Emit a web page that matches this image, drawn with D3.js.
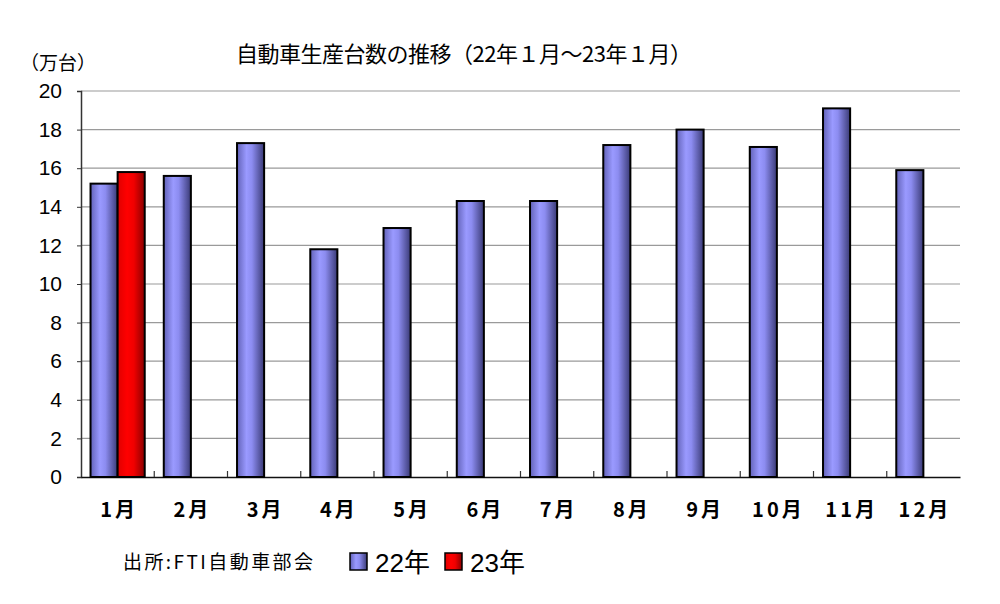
<!DOCTYPE html>
<html>
<head>
<meta charset="utf-8">
<script src="https://cdn.jsdelivr.net/npm/d3@7"></script>
<style>
  body { margin: 0; background: #fff; }
  svg { display: block; }
</style>
</head>
<body>
<svg id="chart" width="1000" height="604"></svg>
<script>
// データ
const months = ['1月', '2月', '3月', '4月', '5月', '6月', '7月', '8月', '9月', '10月', '11月', '12月'];
const values22 = [15.2, 15.6, 17.3, 11.8, 12.9, 14.3, 14.3, 17.2, 18.0, 17.1, 19.1, 15.9];
const values23 = [15.8, null, null, null, null, null, null, null, null, null, null, null];
const yTicks = [0, 2, 4, 6, 8, 10, 12, 14, 16, 18, 20];
const seriesNames = ['22年', '23年'];

const margin = { left: 81, right: 40, top: 91, bottom: 127 };
const width = 1000, height = 604;

const svg = d3.select('#chart');
const font = "'Liberation Sans', Arial, 'Noto Sans CJK JP', sans-serif";
const jpFont = "'Noto Sans CJK JP', sans-serif";

// グラデーション
const defs = svg.append('defs');
function addGradient(id, stops) {
    const gr = defs.append('linearGradient')
        .attr('id', id)
        .attr('x1', '0%').attr('x2', '100%')
        .attr('y1', '0%').attr('y2', '0%');
    stops.forEach(s => gr.append('stop').attr('offset', s[0]).attr('stop-color', s[1]));
}
addGradient('grad-blue', [['0%', '#6262b8'], ['35%', '#9a9aff'], ['55%', '#8c8cf0'], ['100%', '#3a3a76']]);
addGradient('grad-red', [['0%', '#e00000'], ['35%', '#ff0000'], ['60%', '#f00000'], ['100%', '#8a0000']]);

const x = d3.scaleBand()
    .domain(months)
    .range([margin.left, width - margin.right])
    .paddingInner(0.26)
    .paddingOuter(0.13);

const xSub = d3.scaleBand()
    .domain(seriesNames)
    .range([0, x.bandwidth()]);

const y = d3.scaleLinear()
    .domain([0, 20])
    .range([height - margin.bottom, margin.top]);

// グリッド線
svg.append('g')
    .selectAll('line')
    .data(yTicks.filter(d => d > 0))
    .enter().append('line')
    .attr('x1', margin.left)
    .attr('x2', width - margin.right)
    .attr('y1', d => y(d))
    .attr('y2', d => y(d))
    .attr('stroke', '#9a9a9a')
    .attr('stroke-width', 1.2);

// Y軸
const yAxis = svg.append('g')
    .attr('transform', `translate(${margin.left},0)`)
    .call(d3.axisLeft(y).tickValues(yTicks).tickSize(4).tickPadding(15));
yAxis.select('.domain').attr('stroke', '#333').attr('stroke-width', 1.5);
yAxis.selectAll('.tick line').attr('stroke', '#333');
yAxis.selectAll('text')
    .style('font-family', font)
    .style('font-size', '21px')
    .attr('fill', '#000');

// X軸
const xAxis = svg.append('g')
    .attr('transform', `translate(0,${height - margin.bottom})`)
    .call(d3.axisBottom(x).tickSize(0).tickPadding(26));
xAxis.select('.domain').attr('stroke', '#111').attr('stroke-width', 1.5);
xAxis.selectAll('text')
    .style('font-family', jpFont)
    .style('font-size', '20px')
    .style('font-weight', 'bold')
    .style('letter-spacing', '3px')
    .attr('dx', '1.5')
    .attr('fill', '#000');

// 区切り目盛り
const step = x.step();
const firstStart = x(months[0]) - x.paddingOuter() * step;
svg.append('g')
    .selectAll('line')
    .data(months.slice(1))
    .enter().append('line')
    .attr('x1', (d, i) => firstStart + (i + 1) * step)
    .attr('x2', (d, i) => firstStart + (i + 1) * step)
    .attr('y1', height - margin.bottom)
    .attr('y2', height - margin.bottom - 6)
    .attr('stroke', '#333')
    .attr('stroke-width', 1.2);

// 棒
const bars = [];
months.forEach((m, i) => {
    if (values22[i] != null) bars.push({ month: m, series: '22年', value: values22[i] });
    if (values23[i] != null) bars.push({ month: m, series: '23年', value: values23[i] });
});

svg.append('g')
    .selectAll('rect')
    .data(bars)
    .enter().append('rect')
    .attr('x', d => x(d.month) + xSub(d.series))
    .attr('width', xSub.bandwidth())
    .attr('y', d => y(d.value))
    .attr('height', d => y(0) - y(d.value))
    .attr('fill', d => d.series === '22年' ? 'url(#grad-blue)' : 'url(#grad-red)')
    .attr('stroke', '#000')
    .attr('stroke-width', 2);

// タイトル
svg.append('text')
    .attr('x', 464)
    .attr('y', 62)
    .attr('text-anchor', 'middle')
    .attr('textLength', 456)
    .style('font-family', jpFont)
    .style('font-size', '22px')
    .text('自動車生産台数の推移（22年１月～23年１月）');

// 単位
svg.append('text')
    .attr('x', 20)
    .attr('y', 70)
    .style('font-family', jpFont)
    .style('font-size', '19px')
    .text('（万台）');

// 出所
svg.append('text')
    .attr('x', 123)
    .attr('y', 569)
    .attr('textLength', 190)
    .style('font-family', jpFont)
    .style('font-size', '19px')
    .text('出所:FTI自動車部会');

// 凡例
const legend = svg.append('g');
const legendItems = [
    { name: seriesNames[0], x: 350, fill: 'url(#grad-blue)' },
    { name: seriesNames[1], x: 445, fill: 'url(#grad-red)' }
];
legend.selectAll('rect')
    .data(legendItems)
    .enter().append('rect')
    .attr('x', d => d.x)
    .attr('y', 553)
    .attr('width', 17)
    .attr('height', 17)
    .attr('fill', d => d.fill)
    .attr('stroke', '#000')
    .attr('stroke-width', 1.5);
legend.selectAll('text')
    .data(legendItems)
    .enter().append('text')
    .attr('x', d => d.x + 25)
    .attr('y', 572)
    .style('font-family', font)
    .style('font-size', '26px')
    .text(d => d.name);
</script>
</body>
</html>
